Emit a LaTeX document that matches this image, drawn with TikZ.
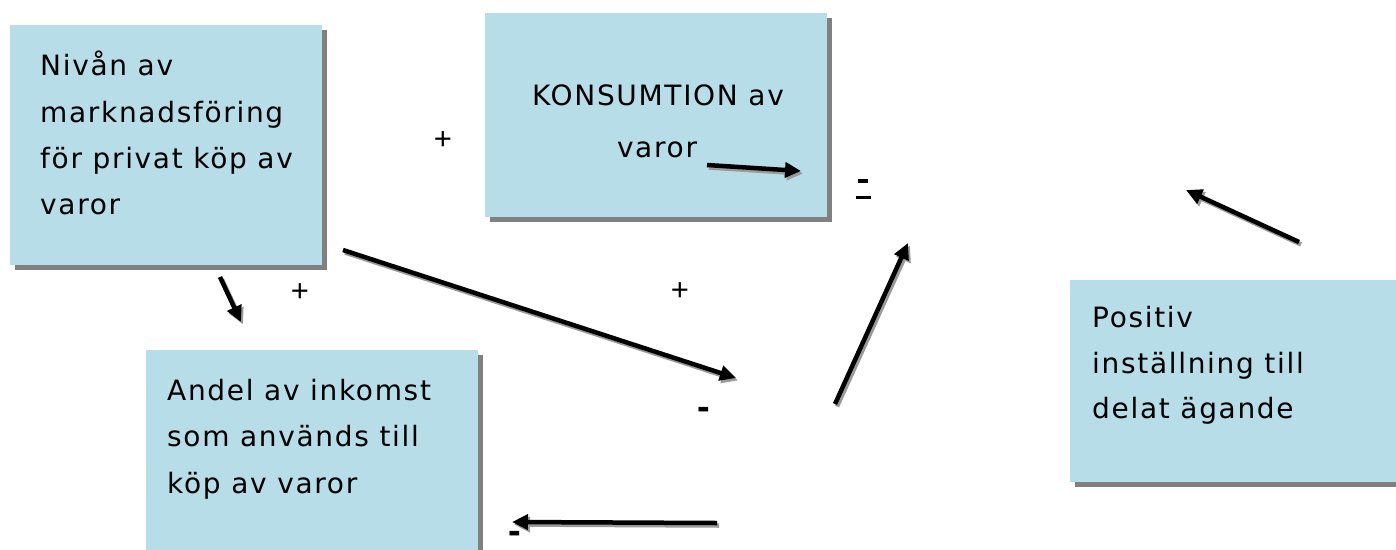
\documentclass[tikz,border=0pt]{standalone}
\usepackage{fontspec}
\setmainfont{DejaVu Sans}[LetterSpace=6]
\newfontfamily\lab{Liberation Sans}
\usetikzlibrary{arrows.meta,shadows}
\definecolor{boxblue}{HTML}{B7DDE8}
\definecolor{shade}{HTML}{808080}
\definecolor{arrsh}{HTML}{9A9A9A}
\begin{document}
\begin{tikzpicture}[x=1pt,y=-1pt,
  box/.style={fill=boxblue, draw=none, inner sep=0pt, anchor=north west,
    drop shadow={shadow xshift=5pt, shadow yshift=-5pt, fill=shade, opacity=1}},
  txt/.style={anchor=base west, inner sep=0pt, font=\fontsize{28}{32}\selectfont},
  ctxt/.style={anchor=base, inner sep=0pt, font=\fontsize{28}{32}\selectfont},
  sign/.style={inner sep=0pt, font=\lab\fontsize{31}{32}\selectfont},
  minus/.style={inner sep=0pt, font=\lab\bfseries\fontsize{38}{40}\selectfont},
  arrow/.style={line width=4.5pt, -{Triangle[length=16pt,width=15pt]}},
  arrowsh/.style={line width=4.5pt, draw=arrsh, -{Triangle[length=16pt,width=15pt]}}
]
\useasboundingbox (0,0) rectangle (1396,549);
\clip (0,0) rectangle (1396,549);

% boxes
\node[box, minimum width=312pt, minimum height=240pt] (b1) at (10,25) {};
\node[box, minimum width=342pt, minimum height=204pt] (b2) at (485,13) {};
\node[box, minimum width=332pt, minimum height=230pt] (b3) at (146,350) {};
\node[box, minimum width=340pt, minimum height=202pt] (b4) at (1070,280) {};

% texts
\node[txt] (t11) at (40,75) {Nivån av};
\node[txt] (t12) at (40,122) {marknadsföring};
\node[txt] (t13) at (40,168) {för privat köp av};
\node[txt] (t14) at (40,214) {varor};

\node[ctxt] (t21) at (658,105) {KONSUMTION av};
\node[ctxt] (t22) at (657,157) {varor};

\node[txt] (t31) at (167,400) {Andel av inkomst};
\node[txt] (t32) at (167,446) {som används till};
\node[txt] (t33) at (167,493) {köp av varor};

\node[txt] (t41) at (1092,327) {Positiv};
\node[txt] (t42) at (1092,373) {inställning till};
\node[txt] (t43) at (1092,418) {delat ägande};

% signs
\node[sign] (p1) at (443,141) {+};
\node[sign] (p2) at (300,293) {+};
\node[sign] (p3) at (680,292) {+};
\node[minus] (m1) at (704,413) {-};
\node[minus] (m2) at (515,537) {-};
\node[inner sep=0pt, anchor=north] (m3) at (863,179)
  {\vbox{\hbox to 15pt{\hss\vrule width 10pt height 4pt\hss}\kern13pt\hrule height 3pt width 15pt}};

% arrow end points
\coordinate (a1s) at (220,277); \coordinate (a1e) at (241,322);
\coordinate (a2s) at (343,250); \coordinate (a2e) at (736,378);
\coordinate (a3s) at (835,404); \coordinate (a3e) at (908,243);
\coordinate (a4s) at (717,523); \coordinate (a4e) at (512,522);
\coordinate (a5s) at (1299,242); \coordinate (a5e) at (1186,190);
\coordinate (a6s) at (707,165); \coordinate (a6e) at (801,171);

\foreach \i in {1,...,6}{
  \draw[arrowsh] ([shift={(2,2.5)}]a\i s) -- ([shift={(2,2.5)}]a\i e);
  \draw[arrow] (a\i s) -- (a\i e);
}
\end{tikzpicture}
\end{document}
